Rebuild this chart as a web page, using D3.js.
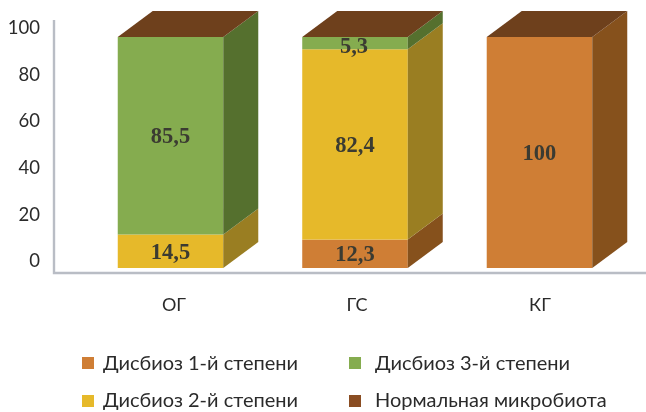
<!DOCTYPE html>
<html><head><meta charset="utf-8">
<script src="https://cdn.jsdelivr.net/npm/d3@7"></script>
<style>html,body{margin:0;background:#fff}svg{display:block}</style></head>
<body><svg id="c" width="646" height="412"></svg>
<script>
const categories = ["ОГ","ГС","КГ"];
const seriesNames = ["Дисбиоз 1-й степени","Дисбиоз 2-й степени","Дисбиоз 3-й степени","Нормальная микробиота"];
const deg1 = [0,12.3,100];
const deg2 = [14.5,82.4,0];
const deg3 = [85.5,5.3,0];
const tickValues = [0,20,40,60,80,100];
const front = ["#CF7E35","#E6B92C","#85AC50"];
const side = ["#86511F","#9A7E22","#55702F"];
const topColor = "#6E3F1C";
const legendColors = ["#CF7E35","#E6B92C","#85AC50","#8A4E24"];
const sans = "Lato,'Open Sans',sans-serif";

const svg = d3.select("#c");
svg.append("defs").append("filter").attr("id","soft").attr("x",0).attr("y",0).attr("width","100%").attr("height","100%")
  .append("feGaussianBlur").attr("stdDeviation",0.4);
const root = svg.append("g").attr("filter","url(#soft)");
const y = d3.scaleLinear().domain([0,100]).range([268,37]);
const yLabel = d3.scaleLinear().domain([0,100]).range([260,27]);
const x = d3.scaleBand().domain(categories).range([79,631]).paddingInner(0.428).paddingOuter(0.21);
const xLabel = d3.scalePoint().domain(categories).range([174,540]);
const dx = 35, dy = -26;
const series = [deg1,deg2,deg3];

// axis
root.append("path").attr("d","M54,20V273H646").attr("fill","none").attr("stroke","#B9BDC5").attr("stroke-width",2.4);
const ax = root.append("g").attr("transform","translate(40,0)").call(d3.axisLeft(yLabel).tickValues(tickValues).tickSize(0).tickPadding(0));
ax.select(".domain").remove();
ax.selectAll("text").attr("font-family",sans).attr("font-size",18.5).attr("fill","#2b2b2b").attr("dy","0.36em");

categories.forEach((c,i)=>{
  const x0 = x(c), w = x.bandwidth();
  let acc = 0;
  series.forEach((s,k)=>{
    const v = s[i]; if(!v) return;
    const y0 = y(acc), y1 = y(acc+v);
    root.append("rect").attr("x",x0).attr("y",y1).attr("width",w).attr("height",y0-y1).attr("fill",front[k]);
    root.append("polygon").attr("fill",side[k]).attr("points",[[x0+w,y0],[x0+w+dx,y0+dy],[x0+w+dx,y1+dy],[x0+w,y1]].join(" "));
    acc += v;
  });
  root.append("polygon").attr("fill",topColor).attr("points",[[x0,y(100)],[x0+dx,y(100)+dy],[x0+w+dx,y(100)+dy],[x0+w,y(100)]].join(" "));
  acc = 0;
  series.forEach((s,k)=>{
    const v = s[i]; if(!v) return;
    let shift = v===5.3 ? 2.5 : 0;
    root.append("text").attr("x",x0+w/2+(v===5.3?-1:0)).attr("y",y(acc+v/2)+7.5+shift)
      .attr("text-anchor","middle").attr("font-family","'Liberation Serif',serif").attr("font-weight","bold")
      .attr("font-size",22.5).attr("fill","#3a3a30").text(String(v).replace(".",","));
    acc += v;
  });
  root.append("text").attr("x",xLabel(c)).attr("y",311).attr("text-anchor","middle")
    .attr("font-family",sans).attr("font-size",18).attr("fill","#2b2b2b").text(c);
});

const legendPos = [[82,357],[82,395],[349,357],[349,395]];
seriesNames.forEach((n,i)=>{
  const [lx,ly] = legendPos[i];
  root.append("rect").attr("x",lx).attr("y",ly).attr("width",12).attr("height",12).attr("fill",legendColors[i]);
  root.append("text").attr("x",lx+(i<2?21:26)).attr("y",ly+(i%2?12:13)).attr("font-family",sans)
    .attr("font-size",20).attr("fill","#2b2b2b").text(n);
});
</script></body></html>
